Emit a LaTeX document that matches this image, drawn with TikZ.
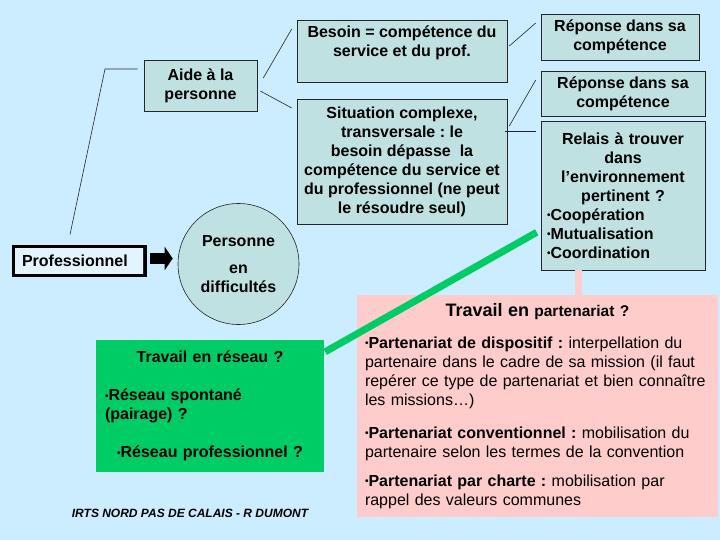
\documentclass[tikz,border=0pt]{standalone}
\usepackage{fontspec}
\setmainfont{Liberation Sans}
\usetikzlibrary{arrows.meta}
\setlength{\parindent}{0pt}
\frenchspacing

\definecolor{bgblue}{RGB}{204,236,255}
\definecolor{tealfill}{RGB}{192,225,226}
\definecolor{profill}{RGB}{226,245,255}
\definecolor{netgreen}{RGB}{0,204,102}
\definecolor{partpink}{RGB}{255,204,204}

\newcommand{\bul}{{\fontsize{10}{10}\selectfont\raisebox{1.5pt}{•}}}

\begin{document}
\begin{tikzpicture}[
    x=1pt, y=-1pt,
    every node/.style={font=\fontsize{16}{19}\selectfont\bfseries},
    box/.style={rectangle, draw=black!85, line width=0.6pt, fill=tealfill, align=center, inner sep=2pt},
    link/.style={black!85, line width=0.6pt},
    blockarrow/.style={line width=11pt, -{Triangle[length=8pt, width=23pt]}},
    greenlink/.style={netgreen, line width=7pt},
    pinklink/.style={partpink, line width=7pt}
]
    % Background
    \fill[bgblue] (0,0) rectangle (720,540);

    % Nodes
    \node[rectangle, draw=black, line width=3pt, fill=profill, minimum width=132pt, minimum height=29pt, text width=115pt, align=left, inner sep=2pt] (pro) at (79.5,261) {Professionnel};
    \node[box, minimum width=113pt, minimum height=51pt] (aide) at (200.5,85.5) {Aide à la\\ personne};
    \node[circle, draw=black!85, line width=0.6pt, fill=tealfill, minimum size=121pt, inner sep=0pt, align=center] (pers) at (238.5,264) {Personne\\[8pt] en\\ difficultés};

    \node[box, minimum width=210pt, minimum height=62pt] (besoin) at (402,51) {Besoin = compétence du\\ service et du prof.\\ \mbox{}};
    \node[box, minimum width=210pt, minimum height=125pt] (situ) at (402,161.5) {Situation complexe,\\ transversale : le\\ besoin dépasse\ \ la\\ compétence du service et\\ du professionnel (ne peut\\ le résoudre seul)};

    \node[box, minimum width=158pt, minimum height=46pt] (rep1) at (620,37) {Réponse dans sa\\ compétence};
    \node[box, minimum width=164pt, minimum height=45pt] (rep2) at (623,93.5) {Réponse dans sa\\ compétence};
    \node[box, minimum width=164pt, minimum height=149pt, text width=152pt, align=left] (relais) at (623,195.5) {\centering Relais à trouver\\ dans\\ l’environnement\\ pertinent ?\par\raggedright\bul Coopération\\ \bul Mutualisation\\ \bul Coordination};

    \node[rectangle, fill=netgreen, minimum width=228pt, minimum height=132pt, text width=210pt, align=center] (reseau) at (210,406) {\centering Travail en réseau ?\par\vspace{19pt}\raggedright\bul Réseau spontané\\ (pairage) ?\par\vspace{19pt}\centering\bul Réseau professionnel ?};

    \node[rectangle, fill=partpink, minimum width=361pt, minimum height=222pt, text width=345pt, align=left] (parten) at (537.5,406) {\centering{\fontsize{18}{19}\selectfont Travail en} {\fontsize{15.5}{19}\selectfont partenariat ?}\par\vspace{13pt}\raggedright\mdseries{\bfseries\bul Partenariat de dispositif :} interpellation du\\ partenaire dans le cadre de sa mission (il faut\\ repérer ce type de partenariat et bien connaître\\ les missions…)\par\vspace{14pt}{\bfseries\bul Partenariat conventionnel :} mobilisation du\\ partenaire selon les termes de la convention\par\vspace{10pt}{\bfseries\bul Partenariat par charte :} mobilisation par\\ rappel des valeurs communes};

    \node[font=\fontsize{12}{14}\selectfont\bfseries\itshape] (credit) at (190,513) {IRTS NORD PAS DE CALAIS - R DUMONT};

    \coordinate (bend) at (105,69);

    % Connectors
    \draw[link] ([shift={(-3.8pt,-3pt)}]pro.north east) -- ([shift={(-3.8pt,3pt)}]pro.south east);
    \draw[blockarrow] ([shift={(3pt,2.5pt)}]pro.east) -- ([shift={(-5pt,2.5pt)}]pers.west |- pro.east);
    \draw[link] ([shift={(-9.5pt,10.5pt)}]pro.north) -- (bend) -- ([shift={(-6pt,16.5pt)}]aide.west);
    \draw[link] ([shift={(6pt,7.5pt)}]aide.east) -- ([shift={(-5pt,22pt)}]besoin.west);
    \draw[link] ([shift={(3pt,-5.5pt)}]aide.east) -- ([shift={(-5pt,53.5pt)}]situ.west);
    \draw[link] ([shift={(2pt,5pt)}]besoin.east) -- ([shift={(-5pt,14pt)}]rep1.west);
    \draw[link] ([shift={(2pt,35.5pt)}]situ.east) -- ([shift={(-5pt,13.5pt)}]rep2.west);
    \draw[link] ([shift={(-2pt,30.5pt)}]situ.east) -- ([shift={(-5pt,64.5pt)}]relais.west);
    \draw[pinklink] ([xshift=-45pt]relais.south) -- ([xshift=-45pt]relais.south |- parten.north);
    \draw[greenlink] ([shift={(1pt,-12pt)}]reseau.north east) -- ([shift={(-4pt,38pt)}]relais.south west);
\end{tikzpicture}
\end{document}
